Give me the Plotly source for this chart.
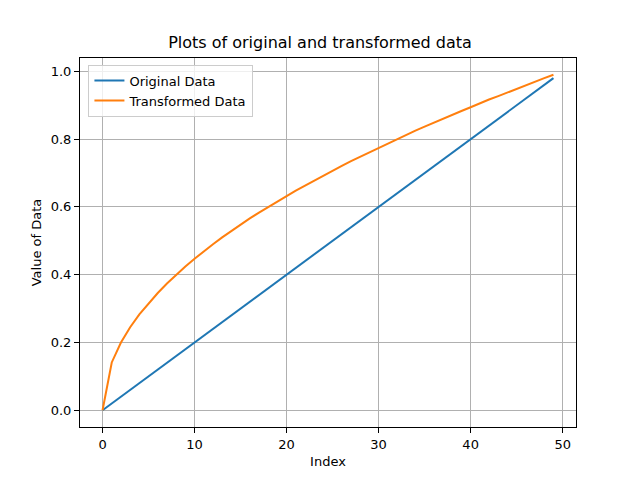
import plotly.graph_objects as go

# data
index = list(range(50))
original = [
    0.00, 0.02, 0.04, 0.06, 0.08, 0.10, 0.12, 0.14, 0.16, 0.18,
    0.20, 0.22, 0.24, 0.26, 0.28, 0.30, 0.32, 0.34, 0.36, 0.38,
    0.40, 0.42, 0.44, 0.46, 0.48, 0.50, 0.52, 0.54, 0.56, 0.58,
    0.60, 0.62, 0.64, 0.66, 0.68, 0.70, 0.72, 0.74, 0.76, 0.78,
    0.80, 0.82, 0.84, 0.86, 0.88, 0.90, 0.92, 0.94, 0.96, 0.98,
]
transformed = [
    0.000, 0.141, 0.200, 0.245, 0.283, 0.316, 0.346, 0.374, 0.400, 0.424,
    0.447, 0.469, 0.490, 0.510, 0.529, 0.548, 0.566, 0.583, 0.600, 0.616,
    0.632, 0.648, 0.663, 0.678, 0.693, 0.707, 0.721, 0.735, 0.748, 0.762,
    0.775, 0.787, 0.800, 0.812, 0.825, 0.837, 0.849, 0.860, 0.872, 0.883,
    0.894, 0.906, 0.917, 0.927, 0.938, 0.949, 0.959, 0.970, 0.980, 0.990,
]
x_ticks = [0, 10, 20, 30, 40, 50]
y_ticks = [0.0, 0.2, 0.4, 0.6, 0.8, 1.0]

fig = go.Figure()
fig.add_trace(go.Scatter(x=index, y=original, mode='lines', name='Original Data',
                         line=dict(color='#1f77b4', width=2)))
fig.add_trace(go.Scatter(x=index, y=transformed, mode='lines', name='Transformed Data',
                         line=dict(color='#ff7f0e', width=2)))

axis_style = dict(
    showline=True, mirror=True, linecolor='black', linewidth=1,
    showgrid=True, gridcolor='#b0b0b0', gridwidth=1,
    ticks='outside', ticklen=5, tickcolor='black', zeroline=False,
    tickfont=dict(size=13, color='black'), automargin=False,
)

# page body has an 8px margin, so the figure is a little smaller and shifted
fig.update_layout(
    width=624, height=464,
    paper_bgcolor='white', plot_bgcolor='white',
    font=dict(family='DejaVu Sans', color='black'),
    title=dict(text='Plots of original and transformed data', x=0.5, xanchor='center',
               y=0.925, yanchor='middle', font=dict(size=16)),
    margin=dict(l=72, r=56, t=50, b=45),
    legend=dict(x=0.017, y=0.982, xanchor='left', yanchor='top',
                bordercolor='#cccccc', borderwidth=1, bgcolor='rgba(255,255,255,0.8)',
                font=dict(size=13), tracegroupgap=0, itemwidth=30),
    showlegend=True,
)
fig.update_xaxes(title=dict(text='Index', font=dict(size=13), standoff=6),
                 range=[-2.45, 51.45], tickvals=x_ticks, **axis_style)
fig.update_yaxes(title=dict(text='Value of Data', font=dict(size=13), standoff=6),
                 range=[-0.0495, 1.0395], tickvals=y_ticks, tickformat='.1f', **axis_style)

fig.write_html("out.html")
